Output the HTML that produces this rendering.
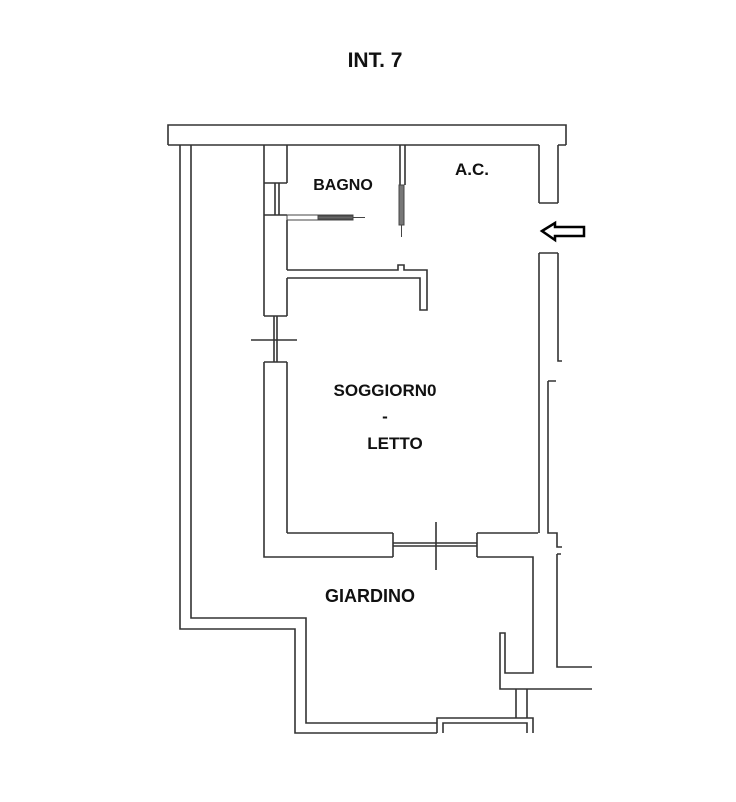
<!DOCTYPE html>
<html><head><style>
html,body{margin:0;padding:0;background:#fff;}
svg{display:block;}
text{font-family:"Liberation Sans",sans-serif;font-weight:bold;fill:#111;}
</style></head><body>
<svg width="736" height="802" viewBox="0 0 736 802" xmlns="http://www.w3.org/2000/svg">
<text x="375" y="67" font-size="21" text-anchor="middle">INT. 7</text>
<g fill="none" stroke="#333" stroke-width="1.6">
<!-- top bar -->
<path d="M168 145 V125 H566 V145"/>
<path d="M168 145 H539 M558 145 H566"/>
<!-- left outer walls -->
<path d="M180 145 V629 H295 V733 H437"/>
<path d="M191 145 V618 H306 V723 H437"/>
<!-- corridor/rooms wall -->
<path d="M264 145 V316 M264 362 V557 H393"/>
<path d="M287 145 V183 M287 220 V270"/>
<path d="M264 183 H287 M264 215 H287 M275 183 V215 M279 183 V215"/>
<path d="M287 278 V316 M287 362 V533"/>
<!-- left window -->
<path d="M264 316 H287 M264 362 H287 M274 316 V362 M277 316 V362"/>
<path d="M251 340 H297"/>
<!-- bathroom -->
<path d="M558 145 V203 M539 145 V203 M539 203 H558"/>
<path d="M400 145 V185 M405 145 V185"/>
<path d="M287 270 H398 V265 H404 V270 H427 V310 H420 V278 H287"/>
<!-- right walls -->
<path d="M539 253 H558 M539 253 V533 M558 253 V361 H562"/>
<path d="M548 381 H556 M548 381 V533 H557 V547 H562"/>
<path d="M557 554 H561 M557 554 V667 H592"/>
<!-- room bottom -->
<path d="M287 533 H393 M477 533 H538"/>
<path d="M393 533 V557 M477 533 V557 M393 543 H477 M393 546 H477 M477 557 H533 V673 H505 V633 H500 V689 H592"/>
<path d="M436 522 V570"/>
<!-- bottom small box -->
<path d="M516 689 V718 M527 689 V718"/>
<path d="M437 733 V718 H533 V733 M443 733 V723 H527 V733"/>
</g>
<g stroke="#444" stroke-width="1">
<rect x="287" y="215" width="66" height="5" fill="#fff"/>
<rect x="318" y="216" width="35" height="3" fill="#666"/>
<path d="M353 217.5 H365"/>
<rect x="399" y="185" width="5" height="40" fill="#777"/>
<path d="M401.5 225 V237"/>
</g>
<path d="M542 231 L555 223 V227 H584 V236 H555 V240 Z" fill="#fff" stroke="#000" stroke-width="2.5"/>
<text x="343" y="190" font-size="16" text-anchor="middle">BAGNO</text>
<text x="472" y="175" font-size="17" text-anchor="middle">A.C.</text>
<text x="385" y="396" font-size="17" text-anchor="middle">SOGGIORN0</text>
<text x="385" y="422" font-size="17" text-anchor="middle">-</text>
<text x="395" y="449" font-size="17" text-anchor="middle">LETTO</text>
<text x="370" y="602" font-size="18" text-anchor="middle">GIARDINO</text>
</svg>
</body></html>
